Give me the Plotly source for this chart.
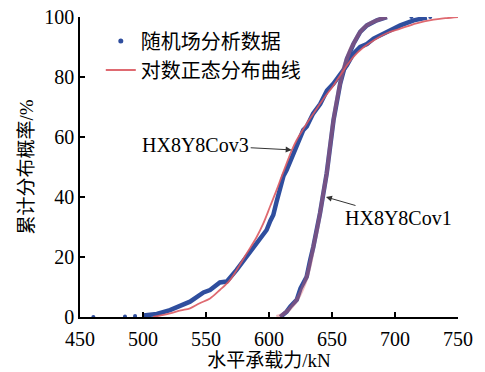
import plotly.graph_objects as go

# ---- data ----
# Random-field analysis data (blue), HX8Y8Cov3
cov3_data_x = [500.3, 505.6, 511, 521.4, 530, 537.3, 548, 553.2, 561, 566.4, 574.3, 582.3, 590.2,
               595.6, 598.1, 601, 603.4, 606, 608.7, 611.5, 614, 619.3, 627.2, 630, 635, 640.6,
               646, 651.2, 656.5, 661.8, 667, 672.4, 677.7, 683, 693.6, 704.2, 714.8, 725.3]
cov3_data_y = [0.5, 0.7, 1.0, 2.3, 3.6, 5.1, 8.2, 9.0, 11.5, 11.8, 15.7, 20.1, 24.6,
               28.0, 29.0, 32.0, 34.0, 38.4, 43.4, 47.0, 49.0, 54.6, 62.3, 63.5, 67.8, 71.0,
               75.5, 77.8, 81.0, 83.9, 87.8, 90.0, 91.0, 92.8, 95.0, 97.2, 98.9, 99.8]
# sparse outlying points of the blue data
cov3_sparse_x = [460.6, 485.7, 493.7, 713.0, 728.0]
cov3_sparse_y = [0.0, 0.2, 0.3, 100.0, 100.0]

# Random-field analysis data (blue), HX8Y8Cov1
cov1_data_x = [609, 614, 617, 622, 625, 629.9, 632.7, 635.2, 640.5, 645.8, 651.2, 656.5,
               661.8, 667, 672.4, 677.7, 685.6, 693.6]
cov1_data_y = [0.0, 1.8, 3.5, 5.7, 9.5, 13.4, 19.0, 23.4, 34.6, 47.9, 65.6, 77.8,
               86.0, 91.0, 95.0, 97.2, 98.9, 100.0]

# Log-normal fitted curves (red)
cov3_fit_x = [508, 515, 521.4, 530, 537.3, 545, 553.2, 561, 569, 577, 582.3, 590, 595.5, 601,
              606, 610, 614, 618, 622, 627, 632, 638, 644, 651.2, 658, 667, 675, 683, 693,
              704.2, 717, 730.6, 740, 750]
cov3_fit_y = [0.0, 0.6, 1.2, 2.2, 2.9, 4.6, 6.2, 9.0, 12.3, 17.5, 21.2, 26.5, 31.2, 37.0,
              42.3, 46.8, 51.2, 55.5, 59.0, 62.5, 65.8, 69.5, 73.2, 77.2, 81.5, 86.7, 89.9,
              92.2, 94.5, 96.1, 97.9, 99.1, 99.6, 100.0]
cov1_fit_x = [606, 610, 614, 618, 622, 626, 629.9, 633, 635.2, 638, 640.5, 643, 645.8, 648.5,
              651.2, 654, 656.5, 659, 661.8, 665, 667, 672.4, 677.7, 685.6, 693.6]
cov1_fit_y = [0.0, 0.6, 1.8, 3.5, 5.7, 9.0, 13.4, 18.5, 23.4, 29.0, 34.6, 41.0, 47.9, 57.0,
              65.6, 72.5, 77.8, 82.5, 86.0, 89.5, 91.0, 95.0, 97.2, 98.9, 100.0]

legend_names = ["随机场分析数据", "对数正态分布曲线"]
x_ticks = [450, 500, 550, 600, 650, 700, 750]
y_ticks = [0, 20, 40, 60, 80, 100]

BLUE = "#2F4E9E"
RED = "#DC5A62"
FONT = "Liberation Serif, Noto Sans CJK SC, serif"

fig = go.Figure()

for xs, ys in [(cov3_data_x, cov3_data_y), (cov1_data_x, cov1_data_y)]:
    fig.add_trace(go.Scatter(x=xs, y=ys, mode="lines", line=dict(color=BLUE, width=4.5),
                             showlegend=False, hoverinfo="skip"))
fig.add_trace(go.Scatter(x=cov3_sparse_x, y=cov3_sparse_y, mode="markers",
                         marker=dict(color=BLUE, size=4), showlegend=False))
# legend entry for the blue data
fig.add_trace(go.Scatter(x=[None], y=[None], mode="markers", name=legend_names[0],
                         marker=dict(color=BLUE, size=5)))

fig.add_trace(go.Scatter(x=cov3_fit_x, y=cov3_fit_y, mode="lines", name=legend_names[1],
                         line=dict(color=RED, width=1.8, shape="spline"), opacity=0.9))
fig.add_trace(go.Scatter(x=cov1_fit_x, y=cov1_fit_y, mode="lines", showlegend=False,
                         line=dict(color=RED, width=4, shape="spline"), opacity=0.4))

fig.add_annotation(x=618, y=55.7, xref="x", yref="y", text="HX8Y8Cov3",
                   showarrow=True, ax=-96, ay=-5, arrowhead=2, arrowsize=1.2,
                   arrowwidth=1, arrowcolor="#333333",
                   font=dict(family=FONT, size=20, color="black"))
fig.add_annotation(x=645.2, y=40, xref="x", yref="y", text="HX8Y8Cov1",
                   showarrow=True, ax=73, ay=21, arrowhead=2, arrowsize=1.2,
                   arrowwidth=1, arrowcolor="#333333",
                   font=dict(family=FONT, size=20, color="black"))

axis_common = dict(showline=True, linecolor="black", linewidth=1.5, mirror=False,
                   ticks="inside", ticklen=5, tickwidth=1.5, tickcolor="black",
                   showgrid=False, zeroline=False, automargin=False,
                   tickfont=dict(family=FONT, size=20, color="black"))

fig.update_layout(
    width=485, height=372,
    margin=dict(l=80, r=27, t=17, b=55),
    paper_bgcolor="white", plot_bgcolor="white",
    font=dict(family=FONT, size=20, color="black"),
    showlegend=True,
    legend=dict(x=0.055, y=0.985, xanchor="left", yanchor="top",
                bgcolor="rgba(0,0,0,0)", font=dict(family=FONT, size=20),
                tracegroupgap=0, itemwidth=30),
    xaxis=dict(range=[450, 750], tickvals=x_ticks, ticklabelstandoff=3,
               title=dict(text="水平承载力/kN", standoff=4,
                          font=dict(family=FONT, size=19)),
               **axis_common),
    yaxis=dict(range=[0, 100], tickvals=y_ticks,
               title=dict(text="累计分布概率/%", standoff=6,
                          font=dict(family=FONT, size=19)),
               **axis_common),
)

fig.write_html("out.html")
